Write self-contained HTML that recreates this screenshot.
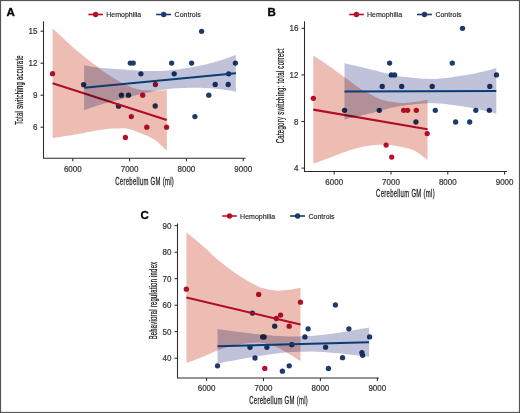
<!DOCTYPE html>
<html><head><meta charset="utf-8"><style>
html,body{margin:0;padding:0;background:#fff;}
body{width:520px;height:413px;overflow:hidden;position:relative;}
svg{position:absolute;left:0;top:0;isolation:isolate;}
text{font-family:"Liberation Sans",sans-serif;}
.tk{font-size:8.6px;fill:#333;stroke:#333;stroke-width:0.22;}
.ti{font-size:10px;fill:#1a1a1a;stroke:#1a1a1a;stroke-width:0.25;letter-spacing:0.5px;}
.lb{font-size:11.5px;font-weight:bold;fill:#000;stroke:#000;stroke-width:0.3;}
.lg{font-size:7.8px;fill:#1e1e1e;stroke:#1e1e1e;stroke-width:0.15;}
</style></head><body>
<svg width="520" height="413" viewBox="0 0 520 413">
<rect x="0" y="0" width="520" height="413" fill="#fff"/>
<path d="M43.50,21.20 V158.30 H245.50" fill="none" stroke="#2a2a2a" stroke-width="1.05"/>
<line x1="40.50" y1="127.20" x2="43.50" y2="127.20" stroke="#222" stroke-width="1"/>
<text transform="translate(37.50,130.20) scale(0.93,1)" text-anchor="end" class="tk">6</text>
<line x1="40.50" y1="95.20" x2="43.50" y2="95.20" stroke="#222" stroke-width="1"/>
<text transform="translate(37.50,98.20) scale(0.93,1)" text-anchor="end" class="tk">9</text>
<line x1="40.50" y1="63.20" x2="43.50" y2="63.20" stroke="#222" stroke-width="1"/>
<text transform="translate(37.50,66.20) scale(0.93,1)" text-anchor="end" class="tk">12</text>
<line x1="40.50" y1="31.20" x2="43.50" y2="31.20" stroke="#222" stroke-width="1"/>
<text transform="translate(37.50,34.20) scale(0.93,1)" text-anchor="end" class="tk">15</text>
<line x1="72.80" y1="158.30" x2="72.80" y2="161.30" stroke="#222" stroke-width="1"/>
<text transform="translate(72.80,171.60) scale(0.93,1)" text-anchor="middle" class="tk">6000</text>
<line x1="129.60" y1="158.30" x2="129.60" y2="161.30" stroke="#222" stroke-width="1"/>
<text transform="translate(129.60,171.60) scale(0.93,1)" text-anchor="middle" class="tk">7000</text>
<line x1="186.40" y1="158.30" x2="186.40" y2="161.30" stroke="#222" stroke-width="1"/>
<text transform="translate(186.40,171.60) scale(0.93,1)" text-anchor="middle" class="tk">8000</text>
<line x1="243.20" y1="158.30" x2="243.20" y2="161.30" stroke="#222" stroke-width="1"/>
<text transform="translate(243.20,171.60) scale(0.93,1)" text-anchor="middle" class="tk">9000</text>
<text transform="translate(144.70,184.50) scale(0.595,1)" text-anchor="middle" class="ti">Cerebellum GM (ml)</text>
<text transform="translate(23.20,89.90) rotate(-90) scale(0.59,1)" text-anchor="middle" class="ti">Total switching accurate</text>
<text x="6.60" y="16.30" class="lb">A</text>
<line x1="88.40" y1="14.50" x2="103.00" y2="14.50" stroke="#b8102c" stroke-width="1.6"/>
<circle cx="95.60" cy="14.50" r="2.7" fill="#b8102c"/>
<text transform="translate(106.20,17.00) scale(0.9,1)" class="lg">Hemophilia</text>
<line x1="156.20" y1="14.50" x2="171.10" y2="14.50" stroke="#1e396c" stroke-width="1.6"/>
<circle cx="163.70" cy="14.50" r="2.7" fill="#1e396c"/>
<text transform="translate(174.60,17.00) scale(0.9,1)" class="lg">Controls</text>
<circle cx="83.60" cy="84.70" r="2.65" fill="#1e396c"/>
<circle cx="130.30" cy="63.10" r="2.65" fill="#1e396c"/>
<circle cx="133.20" cy="63.10" r="2.65" fill="#1e396c"/>
<circle cx="140.90" cy="73.80" r="2.65" fill="#1e396c"/>
<circle cx="121.40" cy="95.20" r="2.65" fill="#1e396c"/>
<circle cx="128.50" cy="95.20" r="2.65" fill="#1e396c"/>
<circle cx="118.50" cy="106.20" r="2.65" fill="#1e396c"/>
<circle cx="201.60" cy="31.30" r="2.65" fill="#1e396c"/>
<circle cx="171.60" cy="63.10" r="2.65" fill="#1e396c"/>
<circle cx="191.60" cy="63.10" r="2.65" fill="#1e396c"/>
<circle cx="235.40" cy="63.10" r="2.65" fill="#1e396c"/>
<circle cx="174.20" cy="73.80" r="2.65" fill="#1e396c"/>
<circle cx="228.70" cy="73.80" r="2.65" fill="#1e396c"/>
<circle cx="215.20" cy="84.50" r="2.65" fill="#1e396c"/>
<circle cx="228.20" cy="84.50" r="2.65" fill="#1e396c"/>
<circle cx="208.80" cy="95.20" r="2.65" fill="#1e396c"/>
<circle cx="155.20" cy="106.00" r="2.65" fill="#1e396c"/>
<circle cx="194.90" cy="116.60" r="2.65" fill="#1e396c"/>
<circle cx="52.50" cy="73.70" r="2.65" fill="#b8102c"/>
<circle cx="142.70" cy="95.20" r="2.65" fill="#b8102c"/>
<circle cx="155.40" cy="84.50" r="2.65" fill="#b8102c"/>
<circle cx="131.30" cy="116.60" r="2.65" fill="#b8102c"/>
<circle cx="146.80" cy="127.20" r="2.65" fill="#b8102c"/>
<circle cx="166.60" cy="127.20" r="2.65" fill="#b8102c"/>
<circle cx="125.40" cy="137.50" r="2.65" fill="#b8102c"/>
<path d="M52.60,28.50 L54.50,30.23 L56.41,31.96 L58.31,33.69 L60.21,35.43 L62.12,37.18 L64.02,38.94 L65.92,40.73 L67.83,42.53 L69.73,44.31 L71.63,46.06 L73.54,47.76 L75.44,49.40 L77.34,51.00 L79.25,52.56 L81.15,54.09 L83.05,55.61 L84.96,57.13 L86.86,58.65 L88.76,60.16 L90.67,61.65 L92.57,63.14 L94.47,64.61 L96.38,66.09 L98.28,67.57 L100.18,69.04 L102.09,70.48 L103.99,71.85 L105.89,73.15 L107.80,74.40 L109.70,75.61 L111.60,76.80 L113.51,77.97 L115.41,79.14 L117.31,80.33 L119.22,81.48 L121.12,82.52 L123.02,83.44 L124.93,84.34 L126.83,85.22 L128.73,86.07 L130.64,86.88 L132.54,87.63 L134.44,88.31 L136.35,88.89 L138.25,89.35 L140.15,89.70 L142.06,89.95 L143.96,90.15 L145.86,90.30 L147.77,90.44 L149.67,90.58 L151.57,90.72 L153.48,90.80 L155.38,90.82 L157.28,90.79 L159.19,90.72 L161.09,90.60 L162.99,90.44 L164.90,90.24 L166.80,90.01 L166.80,150.79 L164.90,148.88 L162.99,147.00 L161.09,145.18 L159.19,143.44 L157.28,141.82 L155.38,140.34 L153.48,139.01 L151.57,137.88 L149.67,136.95 L147.77,136.11 L145.86,135.29 L143.96,134.49 L142.06,133.70 L140.15,132.94 L138.25,132.19 L136.35,131.48 L134.44,130.78 L132.54,130.11 L130.64,129.48 L128.73,128.92 L126.83,128.56 L124.93,128.38 L123.02,128.33 L121.12,128.34 L119.22,128.39 L117.31,128.41 L115.41,128.42 L113.51,128.49 L111.60,128.62 L109.70,128.79 L107.80,128.99 L105.89,129.23 L103.99,129.48 L102.09,129.74 L100.18,130.00 L98.28,130.26 L96.38,130.56 L94.47,130.88 L92.57,131.23 L90.67,131.59 L88.76,131.97 L86.86,132.35 L84.96,132.74 L83.05,133.13 L81.15,133.50 L79.25,133.87 L77.34,134.22 L75.44,134.55 L73.54,134.87 L71.63,135.17 L69.73,135.47 L67.83,135.76 L65.92,136.05 L64.02,136.33 L62.12,136.61 L60.21,136.88 L58.31,137.14 L56.41,137.40 L54.50,137.65 L52.60,137.90Z" fill="#edbdb3" style="mix-blend-mode:multiply"/>
<line x1="52.60" y1="83.20" x2="166.80" y2="120.10" stroke="#b00c26" stroke-width="2.1"/>
<path d="M84.10,65.30 L86.63,65.78 L89.16,66.22 L91.69,66.64 L94.22,67.02 L96.75,67.37 L99.28,67.67 L101.81,67.94 L104.34,68.17 L106.87,68.37 L109.40,68.56 L111.93,68.74 L114.46,68.92 L116.99,69.11 L119.52,69.28 L122.05,69.45 L124.58,69.62 L127.11,69.78 L129.64,69.95 L132.17,70.14 L134.70,70.35 L137.23,70.55 L139.76,70.74 L142.29,70.89 L144.82,70.97 L147.35,71.02 L149.88,71.04 L152.41,71.05 L154.94,71.02 L157.47,70.97 L160.00,70.88 L162.53,70.77 L165.06,70.65 L167.59,70.51 L170.12,70.34 L172.65,70.12 L175.18,69.84 L177.71,69.52 L180.24,69.16 L182.77,68.77 L185.30,68.36 L187.83,67.95 L190.36,67.53 L192.89,67.09 L195.42,66.61 L197.95,66.10 L200.48,65.55 L203.01,64.98 L205.54,64.38 L208.07,63.76 L210.60,63.11 L213.13,62.46 L215.66,61.78 L218.19,61.06 L220.72,60.29 L223.25,59.47 L225.78,58.61 L228.31,57.72 L230.84,56.79 L233.37,55.83 L235.90,54.85 L235.90,91.75 L233.37,91.25 L230.84,90.78 L228.31,90.33 L225.78,89.92 L223.25,89.55 L220.72,89.21 L218.19,88.92 L215.66,88.69 L213.13,88.49 L210.60,88.32 L208.07,88.16 L205.54,88.02 L203.01,87.91 L200.48,87.82 L197.95,87.75 L195.42,87.72 L192.89,87.73 L190.36,87.78 L187.83,87.84 L185.30,87.90 L182.77,87.98 L180.24,88.08 L177.71,88.20 L175.18,88.36 L172.65,88.57 L170.12,88.83 L167.59,89.14 L165.06,89.48 L162.53,89.85 L160.00,90.22 L157.47,90.62 L154.94,91.04 L152.41,91.50 L149.88,91.99 L147.35,92.50 L144.82,93.03 L142.29,93.59 L139.76,94.23 L137.23,94.90 L134.70,95.59 L132.17,96.28 L129.64,96.95 L127.11,97.60 L124.58,98.25 L122.05,98.90 L119.52,99.55 L116.99,100.21 L114.46,100.87 L111.93,101.54 L109.40,102.21 L106.87,102.88 L104.34,103.56 L101.81,104.28 L99.28,105.02 L96.75,105.81 L94.22,106.64 L91.69,107.51 L89.16,108.41 L86.63,109.34 L84.10,110.30Z" fill="#c0c2da" style="mix-blend-mode:multiply"/>
<line x1="84.10" y1="87.80" x2="235.90" y2="73.30" stroke="#0b3d73" stroke-width="2.0"/>
<path d="M304.50,21.20 V171.50 H507.00" fill="none" stroke="#2a2a2a" stroke-width="1.05"/>
<line x1="301.50" y1="168.10" x2="304.50" y2="168.10" stroke="#222" stroke-width="1"/>
<text transform="translate(298.50,171.10) scale(0.93,1)" text-anchor="end" class="tk">4</text>
<line x1="301.50" y1="121.50" x2="304.50" y2="121.50" stroke="#222" stroke-width="1"/>
<text transform="translate(298.50,124.50) scale(0.93,1)" text-anchor="end" class="tk">8</text>
<line x1="301.50" y1="74.90" x2="304.50" y2="74.90" stroke="#222" stroke-width="1"/>
<text transform="translate(298.50,77.90) scale(0.93,1)" text-anchor="end" class="tk">12</text>
<line x1="301.50" y1="28.30" x2="304.50" y2="28.30" stroke="#222" stroke-width="1"/>
<text transform="translate(298.50,31.30) scale(0.93,1)" text-anchor="end" class="tk">16</text>
<line x1="334.20" y1="171.50" x2="334.20" y2="174.50" stroke="#222" stroke-width="1"/>
<text transform="translate(334.20,184.80) scale(0.93,1)" text-anchor="middle" class="tk">6000</text>
<line x1="391.00" y1="171.50" x2="391.00" y2="174.50" stroke="#222" stroke-width="1"/>
<text transform="translate(391.00,184.80) scale(0.93,1)" text-anchor="middle" class="tk">7000</text>
<line x1="447.80" y1="171.50" x2="447.80" y2="174.50" stroke="#222" stroke-width="1"/>
<text transform="translate(447.80,184.80) scale(0.93,1)" text-anchor="middle" class="tk">8000</text>
<line x1="504.60" y1="171.50" x2="504.60" y2="174.50" stroke="#222" stroke-width="1"/>
<text transform="translate(504.60,184.80) scale(0.93,1)" text-anchor="middle" class="tk">9000</text>
<text transform="translate(405.50,197.00) scale(0.595,1)" text-anchor="middle" class="ti">Cerebellum GM (ml)</text>
<text transform="translate(284.00,95.80) rotate(-90) scale(0.6,1)" text-anchor="middle" class="ti">Category switching: total correct</text>
<text x="267.40" y="16.30" class="lb">B</text>
<line x1="349.20" y1="14.50" x2="363.80" y2="14.50" stroke="#b8102c" stroke-width="1.6"/>
<circle cx="356.40" cy="14.50" r="2.7" fill="#b8102c"/>
<text transform="translate(367.00,17.00) scale(0.9,1)" class="lg">Hemophilia</text>
<line x1="417.00" y1="14.50" x2="431.90" y2="14.50" stroke="#1e396c" stroke-width="1.6"/>
<circle cx="424.50" cy="14.50" r="2.7" fill="#1e396c"/>
<text transform="translate(435.40,17.00) scale(0.9,1)" class="lg">Controls</text>
<circle cx="344.50" cy="110.30" r="2.65" fill="#1e396c"/>
<circle cx="379.30" cy="110.30" r="2.65" fill="#1e396c"/>
<circle cx="389.60" cy="63.10" r="2.65" fill="#1e396c"/>
<circle cx="391.30" cy="74.90" r="2.65" fill="#1e396c"/>
<circle cx="394.60" cy="74.90" r="2.65" fill="#1e396c"/>
<circle cx="382.20" cy="86.40" r="2.65" fill="#1e396c"/>
<circle cx="462.50" cy="28.30" r="2.65" fill="#1e396c"/>
<circle cx="452.30" cy="63.10" r="2.65" fill="#1e396c"/>
<circle cx="496.50" cy="74.90" r="2.65" fill="#1e396c"/>
<circle cx="401.70" cy="86.40" r="2.65" fill="#1e396c"/>
<circle cx="432.20" cy="86.40" r="2.65" fill="#1e396c"/>
<circle cx="489.80" cy="86.40" r="2.65" fill="#1e396c"/>
<circle cx="435.30" cy="110.30" r="2.65" fill="#1e396c"/>
<circle cx="475.80" cy="110.30" r="2.65" fill="#1e396c"/>
<circle cx="489.30" cy="110.30" r="2.65" fill="#1e396c"/>
<circle cx="415.90" cy="122.00" r="2.65" fill="#1e396c"/>
<circle cx="455.60" cy="122.00" r="2.65" fill="#1e396c"/>
<circle cx="469.70" cy="122.00" r="2.65" fill="#1e396c"/>
<circle cx="313.30" cy="98.30" r="2.65" fill="#b8102c"/>
<circle cx="403.70" cy="110.30" r="2.65" fill="#b8102c"/>
<circle cx="407.60" cy="110.30" r="2.65" fill="#b8102c"/>
<circle cx="416.30" cy="110.30" r="2.65" fill="#b8102c"/>
<circle cx="427.20" cy="133.60" r="2.65" fill="#b8102c"/>
<circle cx="386.10" cy="145.10" r="2.65" fill="#b8102c"/>
<circle cx="391.70" cy="157.10" r="2.65" fill="#b8102c"/>
<path d="M313.30,55.40 L315.20,56.64 L317.11,57.89 L319.01,59.15 L320.91,60.43 L322.82,61.72 L324.72,63.02 L326.62,64.33 L328.53,65.65 L330.43,66.98 L332.33,68.34 L334.24,69.73 L336.14,71.14 L338.04,72.55 L339.95,73.96 L341.85,75.36 L343.75,76.73 L345.66,78.08 L347.56,79.45 L349.46,80.84 L351.37,82.25 L353.27,83.65 L355.17,85.04 L357.08,86.40 L358.98,87.73 L360.88,89.01 L362.79,90.22 L364.69,91.36 L366.59,92.41 L368.50,93.37 L370.40,94.34 L372.30,95.31 L374.21,96.27 L376.11,97.20 L378.01,98.08 L379.92,98.90 L381.82,99.64 L383.72,100.28 L385.63,100.80 L387.53,101.20 L389.43,101.51 L391.34,101.80 L393.24,102.05 L395.14,102.29 L397.05,102.50 L398.95,102.70 L400.85,102.88 L402.76,102.93 L404.66,102.88 L406.56,102.75 L408.47,102.58 L410.37,102.41 L412.27,102.24 L414.18,102.03 L416.08,101.79 L417.98,101.52 L419.89,101.21 L421.79,100.87 L423.69,100.50 L425.60,100.10 L427.50,99.66 L427.50,160.09 L425.60,158.49 L423.69,156.93 L421.79,155.42 L419.89,154.00 L417.98,152.69 L416.08,151.52 L414.18,150.50 L412.27,149.66 L410.37,149.02 L408.47,148.55 L406.56,148.11 L404.66,147.68 L402.76,147.26 L400.85,146.86 L398.95,146.46 L397.05,146.09 L395.14,145.73 L393.24,145.38 L391.34,145.06 L389.43,144.84 L387.53,144.70 L385.63,144.63 L383.72,144.63 L381.82,144.67 L379.92,144.75 L378.01,144.85 L376.11,144.95 L374.21,145.05 L372.30,145.20 L370.40,145.42 L368.50,145.70 L366.59,146.04 L364.69,146.41 L362.79,146.83 L360.88,147.27 L358.98,147.74 L357.08,148.21 L355.17,148.70 L353.27,149.20 L351.37,149.75 L349.46,150.35 L347.56,150.98 L345.66,151.65 L343.75,152.35 L341.85,153.07 L339.95,153.80 L338.04,154.55 L336.14,155.29 L334.24,156.03 L332.33,156.76 L330.43,157.48 L328.53,158.17 L326.62,158.87 L324.72,159.56 L322.82,160.26 L320.91,160.97 L319.01,161.67 L317.11,162.38 L315.20,163.09 L313.30,163.80Z" fill="#edbdb3" style="mix-blend-mode:multiply"/>
<line x1="313.30" y1="109.60" x2="427.50" y2="129.20" stroke="#b00c26" stroke-width="2.1"/>
<path d="M344.50,63.25 L347.03,63.84 L349.56,64.42 L352.09,65.01 L354.62,65.59 L357.15,66.18 L359.68,66.77 L362.21,67.36 L364.74,67.95 L367.27,68.54 L369.80,69.13 L372.33,69.73 L374.86,70.37 L377.39,71.04 L379.92,71.73 L382.45,72.42 L384.98,73.11 L387.51,73.78 L390.04,74.41 L392.57,75.01 L395.10,75.55 L397.63,76.02 L400.16,76.41 L402.69,76.73 L405.22,77.02 L407.75,77.32 L410.28,77.60 L412.81,77.87 L415.34,78.12 L417.87,78.35 L420.40,78.55 L422.93,78.72 L425.46,78.86 L427.99,78.95 L430.52,79.00 L433.05,79.00 L435.58,78.93 L438.11,78.80 L440.64,78.60 L443.17,78.35 L445.70,78.06 L448.23,77.74 L450.76,77.38 L453.29,77.01 L455.82,76.62 L458.35,76.23 L460.88,75.83 L463.41,75.45 L465.94,75.05 L468.47,74.62 L471.00,74.15 L473.53,73.66 L476.06,73.13 L478.59,72.58 L481.12,72.01 L483.65,71.41 L486.18,70.79 L488.71,70.14 L491.24,69.48 L493.77,68.80 L496.30,68.10 L496.30,113.70 L493.77,113.02 L491.24,112.35 L488.71,111.71 L486.18,111.08 L483.65,110.48 L481.12,109.89 L478.59,109.33 L476.06,108.80 L473.53,108.29 L471.00,107.82 L468.47,107.37 L465.94,106.95 L463.41,106.57 L460.88,106.20 L458.35,105.82 L455.82,105.45 L453.29,105.08 L450.76,104.72 L448.23,104.38 L445.70,104.07 L443.17,103.80 L440.64,103.57 L438.11,103.39 L435.58,103.27 L433.05,103.22 L430.52,103.23 L427.99,103.30 L425.46,103.41 L422.93,103.56 L420.40,103.75 L417.87,103.96 L415.34,104.21 L412.81,104.48 L410.28,104.76 L407.75,105.06 L405.22,105.38 L402.69,105.69 L400.16,106.02 L397.63,106.43 L395.10,106.92 L392.57,107.47 L390.04,108.09 L387.51,108.74 L384.98,109.42 L382.45,110.13 L379.92,110.84 L377.39,111.54 L374.86,112.23 L372.33,112.88 L369.80,113.50 L367.27,114.11 L364.74,114.72 L362.21,115.32 L359.68,115.93 L357.15,116.53 L354.62,117.14 L352.09,117.74 L349.56,118.35 L347.03,118.95 L344.50,119.55Z" fill="#c0c2da" style="mix-blend-mode:multiply"/>
<line x1="344.50" y1="91.40" x2="496.30" y2="90.90" stroke="#0b3d73" stroke-width="2.0"/>
<path d="M177.50,223.50 V378.00 H379.00" fill="none" stroke="#2a2a2a" stroke-width="1.05"/>
<line x1="174.50" y1="358.20" x2="177.50" y2="358.20" stroke="#222" stroke-width="1"/>
<text transform="translate(171.50,361.20) scale(0.93,1)" text-anchor="end" class="tk">40</text>
<line x1="174.50" y1="331.70" x2="177.50" y2="331.70" stroke="#222" stroke-width="1"/>
<text transform="translate(171.50,334.70) scale(0.93,1)" text-anchor="end" class="tk">50</text>
<line x1="174.50" y1="305.20" x2="177.50" y2="305.20" stroke="#222" stroke-width="1"/>
<text transform="translate(171.50,308.20) scale(0.93,1)" text-anchor="end" class="tk">60</text>
<line x1="174.50" y1="278.70" x2="177.50" y2="278.70" stroke="#222" stroke-width="1"/>
<text transform="translate(171.50,281.70) scale(0.93,1)" text-anchor="end" class="tk">70</text>
<line x1="174.50" y1="252.20" x2="177.50" y2="252.20" stroke="#222" stroke-width="1"/>
<text transform="translate(171.50,255.20) scale(0.93,1)" text-anchor="end" class="tk">80</text>
<line x1="174.50" y1="225.70" x2="177.50" y2="225.70" stroke="#222" stroke-width="1"/>
<text transform="translate(171.50,228.70) scale(0.93,1)" text-anchor="end" class="tk">90</text>
<line x1="206.60" y1="378.00" x2="206.60" y2="381.00" stroke="#222" stroke-width="1"/>
<text transform="translate(206.60,391.30) scale(0.93,1)" text-anchor="middle" class="tk">6000</text>
<line x1="263.50" y1="378.00" x2="263.50" y2="381.00" stroke="#222" stroke-width="1"/>
<text transform="translate(263.50,391.30) scale(0.93,1)" text-anchor="middle" class="tk">7000</text>
<line x1="320.40" y1="378.00" x2="320.40" y2="381.00" stroke="#222" stroke-width="1"/>
<text transform="translate(320.40,391.30) scale(0.93,1)" text-anchor="middle" class="tk">8000</text>
<line x1="377.30" y1="378.00" x2="377.30" y2="381.00" stroke="#222" stroke-width="1"/>
<text transform="translate(377.30,391.30) scale(0.93,1)" text-anchor="middle" class="tk">9000</text>
<text transform="translate(278.70,404.20) scale(0.595,1)" text-anchor="middle" class="ti">Cerebellum GM (ml)</text>
<text transform="translate(157.40,300.50) rotate(-90) scale(0.58,1)" text-anchor="middle" class="ti">Behavioral regulation index</text>
<text x="140.60" y="218.60" class="lb">C</text>
<line x1="222.30" y1="216.00" x2="236.90" y2="216.00" stroke="#b8102c" stroke-width="1.6"/>
<circle cx="229.50" cy="216.00" r="2.7" fill="#b8102c"/>
<text transform="translate(240.10,218.50) scale(0.9,1)" class="lg">Hemophilia</text>
<line x1="290.10" y1="216.00" x2="305.00" y2="216.00" stroke="#1e396c" stroke-width="1.6"/>
<circle cx="297.60" cy="216.00" r="2.7" fill="#1e396c"/>
<text transform="translate(308.50,218.50) scale(0.9,1)" class="lg">Controls</text>
<circle cx="217.50" cy="365.80" r="2.65" fill="#1e396c"/>
<circle cx="262.60" cy="336.90" r="2.65" fill="#1e396c"/>
<circle cx="264.10" cy="336.90" r="2.65" fill="#1e396c"/>
<circle cx="250.00" cy="347.30" r="2.65" fill="#1e396c"/>
<circle cx="266.90" cy="347.30" r="2.65" fill="#1e396c"/>
<circle cx="255.00" cy="358.00" r="2.65" fill="#1e396c"/>
<circle cx="274.70" cy="326.20" r="2.65" fill="#1e396c"/>
<circle cx="252.40" cy="313.10" r="2.65" fill="#1e396c"/>
<circle cx="282.40" cy="371.20" r="2.65" fill="#1e396c"/>
<circle cx="289.20" cy="365.80" r="2.65" fill="#1e396c"/>
<circle cx="291.80" cy="344.70" r="2.65" fill="#1e396c"/>
<circle cx="304.90" cy="336.90" r="2.65" fill="#1e396c"/>
<circle cx="308.10" cy="328.80" r="2.65" fill="#1e396c"/>
<circle cx="325.60" cy="347.20" r="2.65" fill="#1e396c"/>
<circle cx="328.40" cy="368.40" r="2.65" fill="#1e396c"/>
<circle cx="335.40" cy="304.90" r="2.65" fill="#1e396c"/>
<circle cx="342.50" cy="357.70" r="2.65" fill="#1e396c"/>
<circle cx="348.90" cy="328.80" r="2.65" fill="#1e396c"/>
<circle cx="361.90" cy="352.70" r="2.65" fill="#1e396c"/>
<circle cx="362.60" cy="355.30" r="2.65" fill="#1e396c"/>
<circle cx="369.60" cy="336.90" r="2.65" fill="#1e396c"/>
<circle cx="186.30" cy="289.20" r="2.65" fill="#b8102c"/>
<circle cx="258.70" cy="294.40" r="2.65" fill="#b8102c"/>
<circle cx="276.30" cy="318.50" r="2.65" fill="#b8102c"/>
<circle cx="280.60" cy="315.10" r="2.65" fill="#b8102c"/>
<circle cx="289.20" cy="326.20" r="2.65" fill="#b8102c"/>
<circle cx="300.50" cy="302.20" r="2.65" fill="#b8102c"/>
<circle cx="264.80" cy="368.40" r="2.65" fill="#b8102c"/>
<path d="M186.40,232.40 L188.30,233.90 L190.20,235.43 L192.11,236.97 L194.01,238.54 L195.91,240.12 L197.81,241.72 L199.71,243.35 L201.61,245.01 L203.52,246.68 L205.42,248.37 L207.32,250.09 L209.22,251.87 L211.12,253.67 L213.02,255.46 L214.93,257.22 L216.83,258.90 L218.73,260.50 L220.63,262.07 L222.53,263.60 L224.43,265.10 L226.34,266.56 L228.24,267.98 L230.14,269.37 L232.04,270.74 L233.94,272.08 L235.84,273.38 L237.75,274.66 L239.65,275.91 L241.55,277.13 L243.45,278.35 L245.35,279.56 L247.25,280.73 L249.16,281.85 L251.06,282.89 L252.96,283.84 L254.86,284.81 L256.76,285.76 L258.66,286.66 L260.56,287.45 L262.47,288.11 L264.37,288.59 L266.27,289.01 L268.17,289.38 L270.07,289.72 L271.98,290.03 L273.88,290.32 L275.78,290.60 L277.68,290.73 L279.58,290.71 L281.48,290.57 L283.38,290.37 L285.29,290.14 L287.19,289.94 L289.09,289.72 L290.99,289.47 L292.89,289.18 L294.80,288.85 L296.70,288.49 L298.60,288.09 L300.50,287.66 L300.50,361.34 L298.60,360.01 L296.70,358.72 L294.80,357.46 L292.89,356.23 L290.99,355.05 L289.09,353.90 L287.19,352.79 L285.29,351.69 L283.38,350.56 L281.48,349.46 L279.58,348.43 L277.68,347.51 L275.78,346.75 L273.88,346.12 L271.98,345.52 L270.07,344.93 L268.17,344.38 L266.27,343.85 L264.37,343.37 L262.47,342.96 L260.56,342.72 L258.66,342.62 L256.76,342.62 L254.86,342.67 L252.96,342.74 L251.06,342.80 L249.16,342.94 L247.25,343.16 L245.35,343.44 L243.45,343.75 L241.55,344.07 L239.65,344.40 L237.75,344.75 L235.84,345.13 L233.94,345.54 L232.04,345.98 L230.14,346.45 L228.24,346.95 L226.34,347.47 L224.43,348.04 L222.53,348.64 L220.63,349.27 L218.73,349.94 L216.83,350.65 L214.93,351.43 L213.02,352.29 L211.12,353.19 L209.22,354.09 L207.32,354.97 L205.42,355.80 L203.52,356.59 L201.61,357.37 L199.71,358.12 L197.81,358.86 L195.91,359.56 L194.01,360.25 L192.11,360.92 L190.20,361.57 L188.30,362.19 L186.40,362.80Z" fill="#edbdb3" style="mix-blend-mode:multiply"/>
<line x1="186.40" y1="297.60" x2="300.50" y2="324.50" stroke="#b00c26" stroke-width="2.1"/>
<path d="M217.50,329.10 L220.03,329.45 L222.55,329.80 L225.08,330.15 L227.61,330.49 L230.13,330.82 L232.66,331.15 L235.19,331.48 L237.71,331.81 L240.24,332.13 L242.77,332.45 L245.29,332.76 L247.82,333.06 L250.35,333.36 L252.87,333.65 L255.40,333.94 L257.93,334.22 L260.45,334.48 L262.98,334.73 L265.51,334.97 L268.03,335.20 L270.56,335.43 L273.09,335.64 L275.61,335.82 L278.14,335.97 L280.67,336.11 L283.19,336.26 L285.72,336.40 L288.25,336.50 L290.77,336.54 L293.30,336.52 L295.83,336.45 L298.35,336.38 L300.88,336.31 L303.41,336.25 L305.93,336.18 L308.46,336.11 L310.99,336.00 L313.51,335.81 L316.04,335.58 L318.57,335.31 L321.09,335.02 L323.62,334.74 L326.15,334.45 L328.67,334.13 L331.20,333.79 L333.73,333.42 L336.25,333.05 L338.78,332.68 L341.31,332.29 L343.83,331.89 L346.36,331.48 L348.89,331.05 L351.41,330.63 L353.94,330.19 L356.47,329.76 L358.99,329.31 L361.52,328.86 L364.05,328.40 L366.57,327.94 L369.10,327.46 L369.10,356.94 L366.57,356.60 L364.05,356.27 L361.52,355.95 L358.99,355.64 L356.47,355.33 L353.94,355.03 L351.41,354.73 L348.89,354.44 L346.36,354.15 L343.83,353.87 L341.31,353.61 L338.78,353.36 L336.25,353.12 L333.73,352.89 L331.20,352.66 L328.67,352.45 L326.15,352.27 L323.62,352.12 L321.09,351.98 L318.57,351.83 L316.04,351.69 L313.51,351.59 L310.99,351.55 L308.46,351.57 L305.93,351.64 L303.41,351.71 L300.88,351.78 L298.35,351.84 L295.83,351.91 L293.30,351.98 L290.77,352.09 L288.25,352.28 L285.72,352.51 L283.19,352.78 L280.67,353.07 L278.14,353.35 L275.61,353.64 L273.09,353.96 L270.56,354.30 L268.03,354.67 L265.51,355.04 L262.98,355.41 L260.45,355.80 L257.93,356.20 L255.40,356.61 L252.87,357.04 L250.35,357.46 L247.82,357.90 L245.29,358.34 L242.77,358.78 L240.24,359.24 L237.71,359.70 L235.19,360.16 L232.66,360.63 L230.13,361.09 L227.61,361.57 L225.08,362.04 L222.55,362.53 L220.03,363.01 L217.50,363.50Z" fill="#c0c2da" style="mix-blend-mode:multiply"/>
<line x1="217.50" y1="346.30" x2="369.10" y2="342.20" stroke="#0b3d73" stroke-width="2.0"/>
<rect x="0.5" y="0.5" width="519" height="412" fill="none" stroke="#555" stroke-width="1.2"/>
</svg>
</body></html>
